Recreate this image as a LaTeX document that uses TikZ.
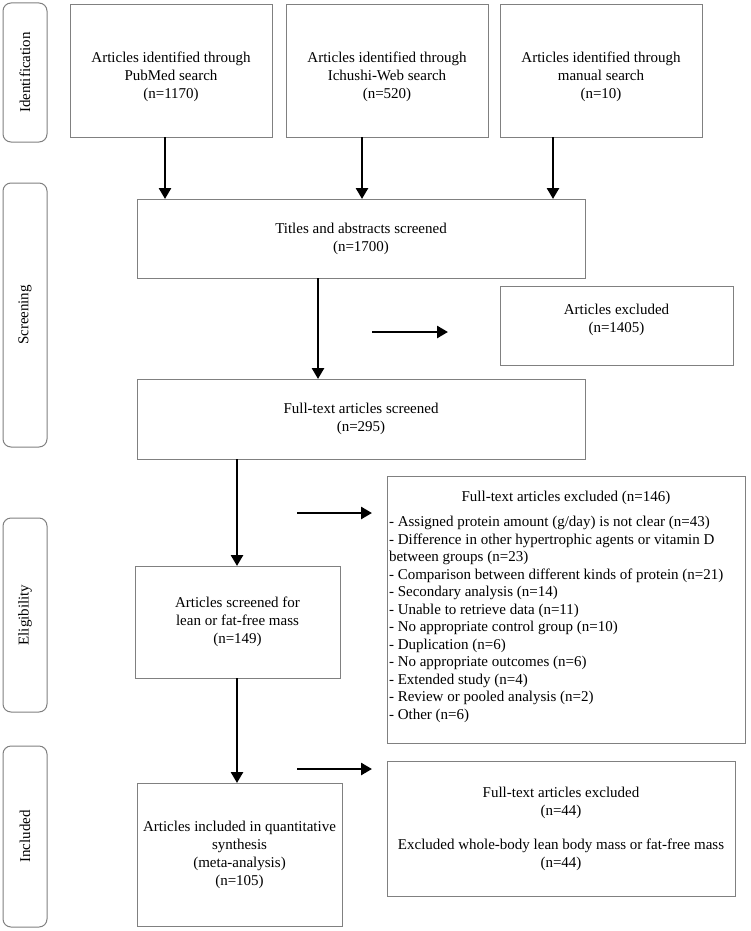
\documentclass[tikz,border=0pt]{standalone}
\usepackage{fontspec}
\setmainfont{Liberation Serif}
\usetikzlibrary{arrows.meta}
\definecolor{boxgray}{RGB}{128,128,128}
\begin{document}
\begin{tikzpicture}[x=1pt,y=-1pt,
  every node/.style={font=\fontsize{15}{18}\selectfont, inner sep=0pt, outer sep=0pt},
  box/.style={draw=boxgray, line width=1pt, align=center},
  lab/.style={draw=boxgray, line width=1pt, rounded corners=8pt, rotate=90, minimum height=44pt},
  arr/.style={line width=2.6pt, -{Triangle[width=12pt,length=11pt]}}]
\useasboundingbox (0,0) rectangle (750,931);

% phase labels
\node[lab, minimum width=139pt] (lid) at (25,72.5) {Identification};
\node[lab, minimum width=264pt] (lsc) at (25,315) {Screening};
\node[lab, minimum width=194pt] (lel) at (25,615) {Eligibility};
\node[lab, minimum width=181pt] (lin) at (25,836.5) {Included};

% boxes
\node[box, minimum width=202pt, minimum height=132pt] (b1) at (171,71) {};
\node[align=center] (b1t) at (171,77) {Articles identified through\\PubMed search\\(n=1170)};
\node[box, minimum width=202pt, minimum height=132pt] (b2) at (387,71) {};
\node[align=center] (b2t) at (387,77) {Articles identified through\\Ichushi-Web search\\(n=520)};
\node[box, minimum width=202pt, minimum height=132pt] (b3) at (601,71) {};
\node[align=center] (b3t) at (601,77) {Articles identified through\\manual search\\(n=10)};

\node[box, minimum width=448pt, minimum height=79pt] (scr) at (361,238.5) {Titles and abstracts screened\\(n=1700)};

\node[box, minimum width=233pt, minimum height=79pt] (exc1) at (616.5,325.5) {};
\node[align=center] (exc1t) at (616.5,319.5) {Articles excluded\\(n=1405)};

\node[box, minimum width=448pt, minimum height=80pt] (ft) at (361,419) {Full-text articles screened\\(n=295)};

\node[box, minimum width=358pt, minimum height=267pt] (exc2) at (566,609.5) {};
\node[anchor=north, align=center] (exc2h) at (566,491.5) {Full-text articles excluded (n=146)};
\node[anchor=north west, align=left, font=\fontsize{15}{17.5}\selectfont] (exc2l) at (389,516.5) {- Assigned protein amount (g/day) is not clear (n=43)\\
- Difference in other hypertrophic agents or vitamin D\\
between groups (n=23)\\
- Comparison between different kinds of protein (n=21)\\
- Secondary analysis (n=14)\\
- Unable to retrieve data (n=11)\\
- No appropriate control group (n=10)\\
- Duplication (n=6)\\
- No appropriate outcomes (n=6)\\
- Extended study (n=4)\\
- Review or pooled analysis (n=2)\\
- Other (n=6)};

\node[box, minimum width=205pt, minimum height=112pt] (lean) at (237.5,622) {Articles screened for\\lean or fat-free mass\\(n=149)};

\node[box, minimum width=205pt, minimum height=143pt] (inc) at (239.5,854.5) {Articles included in quantitative\\synthesis\\(meta-analysis)\\(n=105)};

\node[box, minimum width=348pt, minimum height=135pt] (exc3) at (561,828.5) {Full-text articles excluded\\(n=44)\\[16pt]Excluded whole-body lean body mass or fat-free mass\\(n=44)};

% vertical arrows
\coordinate (x1) at (165,0);
\coordinate (x2) at (362,0);
\coordinate (x3) at (553,0);
\coordinate (x4) at (318,0);
\coordinate (x5) at (237,0);
\draw[arr] (b1.south -| x1) -- (scr.north -| x1);
\draw[arr] (b2.south -| x2) -- (scr.north -| x2);
\draw[arr] (b3.south -| x3) -- (scr.north -| x3);
\draw[arr] (scr.south -| x4) -- (ft.north -| x4);
\draw[arr] (ft.south -| x5) -- (lean.north -| x5);
\draw[arr] (lean.south -| x5) -- (inc.north -| x5);

% horizontal arrows
\coordinate (h1s) at (372,332);
\coordinate (h1e) at (448,332);
\coordinate (h2s) at (297,513);
\coordinate (h2e) at (372,513);
\coordinate (h3s) at (297,769);
\coordinate (h3e) at (372,769);
\draw[arr] (h1s) -- (h1e);
\draw[arr] (h2s) -- (h2e);
\draw[arr] (h3s) -- (h3e);
\end{tikzpicture}
\end{document}
